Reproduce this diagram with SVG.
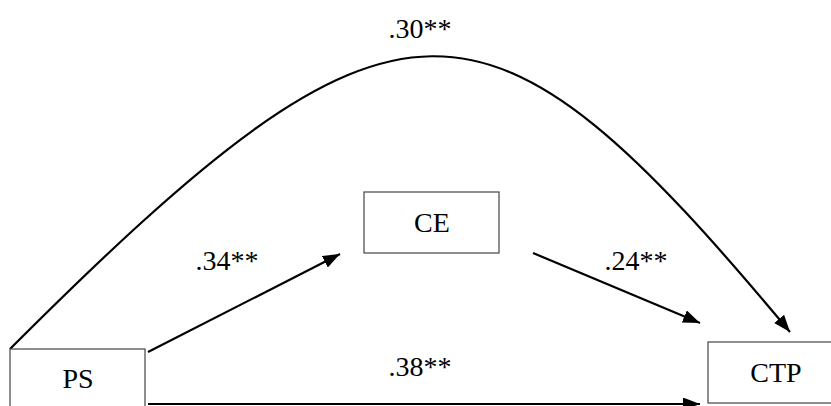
<svg xmlns="http://www.w3.org/2000/svg" width="831" height="406" viewBox="0 0 831 406">
<style>
.box{fill:#fff;stroke:#444;stroke-width:1.2}
.lbl{font-family:"Liberation Serif","Times New Roman",serif;font-size:28px;fill:#000;text-anchor:middle}
.edge{fill:none;stroke:#000;stroke-width:2.2}
</style>
<defs>
<marker id="ah" markerUnits="userSpaceOnUse" markerWidth="18" markerHeight="14" refX="17" refY="6.5" orient="auto" viewBox="0 0 18 14">
<path d="M0,0 L17,6.5 L0,13 z" fill="#000"/>
</marker>
</defs>
<rect width="831" height="406" fill="#fff"/>
<g id="connectors">
<path class="edge" d="M10,349 C401,-42 484,-35 790,332" marker-end="url(#ah)"/>
<line class="edge" x1="148" y1="352" x2="340" y2="254" marker-end="url(#ah)"/>
<line class="edge" x1="533" y1="253" x2="700" y2="323" marker-end="url(#ah)"/>
<line class="edge" x1="148" y1="404" x2="700" y2="404" marker-end="url(#ah)"/>
</g>
<g id="node-ps">
<rect class="box" x="10" y="349" width="135" height="80"/>
<text class="lbl" x="78" y="388">PS</text>
</g>
<g id="node-ce">
<rect class="box" x="364" y="192" width="135" height="61"/>
<text class="lbl" x="432" y="232">CE</text>
</g>
<g id="node-ctp">
<rect class="box" x="708" y="342" width="125" height="61"/>
<text class="lbl" x="776" y="382">CTP</text>
</g>
<g id="labels">
<text class="lbl" x="420" y="38">.30**</text>
<text class="lbl" x="227" y="270">.34**</text>
<text class="lbl" x="636" y="270">.24**</text>
<text class="lbl" x="420" y="376">.38**</text>
</g>
</svg>
